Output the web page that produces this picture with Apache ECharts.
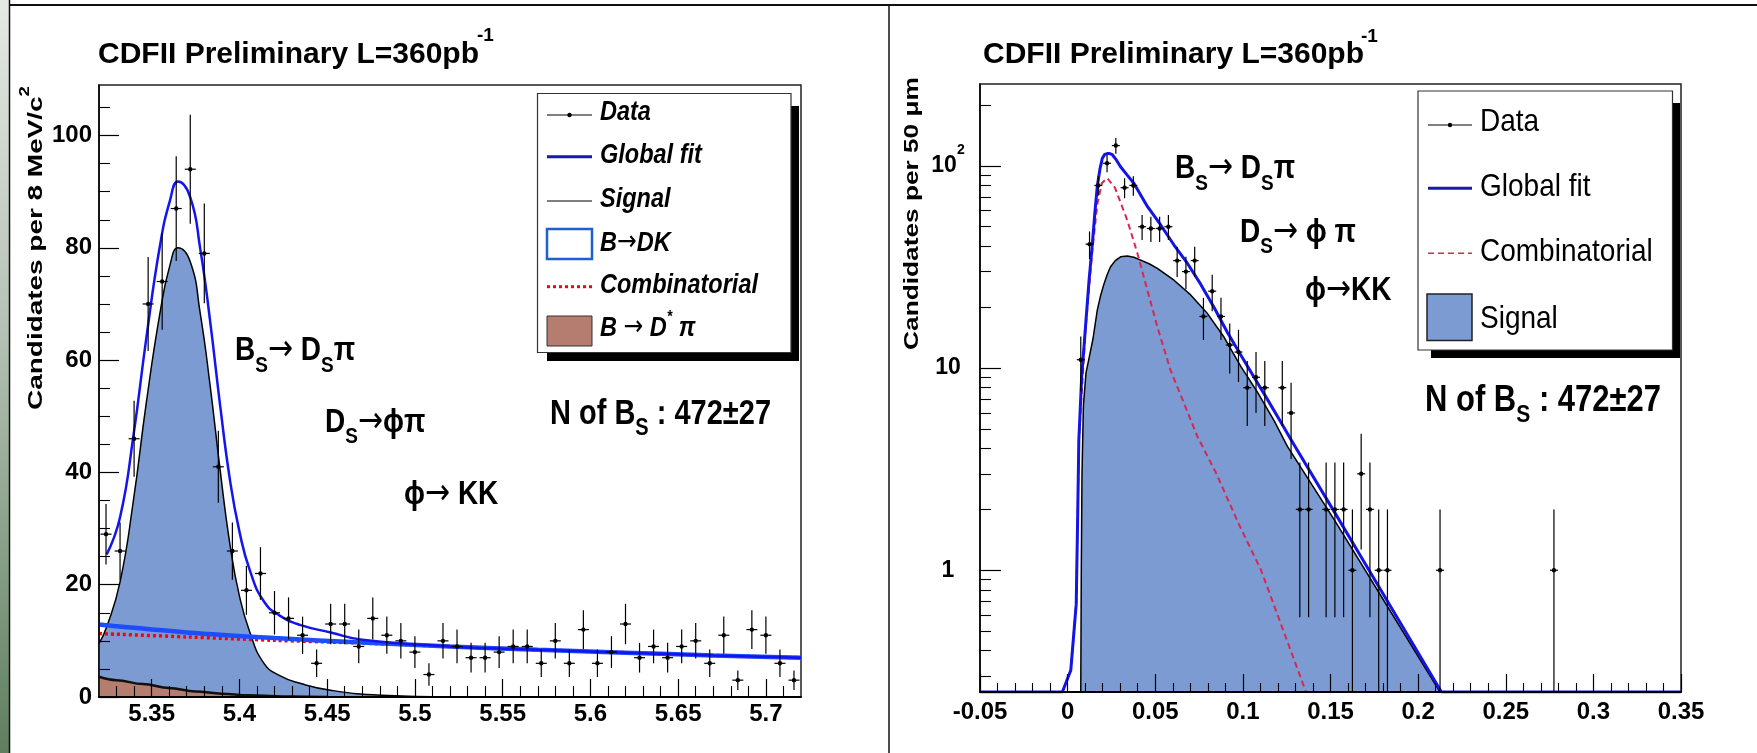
<!DOCTYPE html>
<html><head><meta charset="utf-8">
<script src="https://cdn.jsdelivr.net/npm/echarts@6.0.0/dist/echarts.min.js"></script>
<style>html,body{margin:0;padding:0;background:#fff}#c{width:1757px;height:753px}</style>
</head><body><div id="c"></div>
<script>
// ---------------- LEFT PANEL : B_s mass, 8 MeV/c^2 bins ----------------
const massBinCenters = [5.324,5.332,5.340,5.348,5.356,5.364,5.372,5.380,5.388,5.396,5.404,5.412,5.420,5.428,5.436,5.444,5.452,5.460,5.468,5.476,5.484,5.492,5.500,5.508,5.516,5.524,5.532,5.540,5.548,5.556,5.564,5.572,5.580,5.588,5.596,5.604,5.612,5.620,5.628,5.636,5.644,5.652,5.660,5.668,5.676,5.684,5.692,5.700,5.708,5.716];
const massCounts = [29,26,46,70,74,87,94,79,41,26,19,22,15,14,11,6,13,13,9,14,11,10,8,4,10,9,7,7,8,9,9,6,10,6,12,6,8,13,7,9,7,9,10,6,11,3,12,11,6,3];
// curves
const fitLX = [5.3244,5.332,5.3396,5.347,5.3548,5.3605,5.365,5.372,5.3776,5.3833,5.389,5.3947,5.4,5.406,5.414,5.423,5.435,5.452,5.47,5.52,5.57,5.62,5.67,5.72];
const fitLY = [25.4,32,46.5,64,80.5,88.5,91.8,89,80,67,52,38.5,29.5,22.5,17,14.5,12.8,11.5,10.2,9.0,8.4,7.9,7.4,7.0];
const sigLX = [5.32,5.3244,5.332,5.3396,5.347,5.3548,5.3605,5.365,5.372,5.3776,5.3833,5.389,5.3947,5.4,5.406,5.414,5.423,5.435,5.452,5.481,5.52];
const sigLY = [9.5,12.5,20.5,35,52.5,68.5,77,80,77.5,68.5,55.5,40.5,27,18,11.5,6.0,3.8,2.4,1.2,0.3,0];
const dkLX = [5.32,5.37,5.42,5.47,5.52,5.57,5.62,5.67,5.72];
const dkLY = [12.9,11.5,10.5,9.7,9.0,8.4,7.9,7.4,7.0];
const combLX = [5.32,5.37,5.42,5.47,5.52,5.57,5.62,5.67,5.72];
const combLY = [11.3,10.7,10.1,9.6,9.0,8.4,7.9,7.4,7.0];
const dstarLX = [5.32,5.33,5.345,5.36,5.375,5.39,5.405,5.43,5.45];
const dstarLY = [3.6,3.0,2.3,1.6,1.0,0.6,0.3,0.1,0];
const massMajorTicks = [5.35,5.4,5.45,5.5,5.55,5.6,5.65,5.7];
const massMinorTicks = [5.33,5.34,5.36,5.37,5.38,5.39,5.41,5.42,5.43,5.44,5.46,5.47,5.48,5.49,5.51,5.52,5.53,5.54,5.56,5.57,5.58,5.59,5.61,5.62,5.63,5.64,5.66,5.67,5.68,5.69,5.71];
const countMajorTicks = [0,20,40,60,80,100];
const countMinorTicks = [5,10,15,25,30,35,45,50,55,65,70,75,85,90,95,105];

// ---------------- RIGHT PANEL : proper decay length, 50 um bins (log y) ----------------
const ctBinCenters = [0.0075,0.0125,0.0175,0.0225,0.0275,0.0325,0.0375,0.0425,0.0475,0.0525,0.0575,0.0625,0.0675,0.0725,0.0775,0.0825,0.0875,0.0925,0.0975,0.1025,0.1075,0.1125,0.1225,0.1275,0.1325,0.1375,0.1475,0.1525,0.1575,0.1625,0.1675,0.1725,0.1775,0.1825,0.2125,0.2775];
const ctCounts = [11,41,80,103,126,78,80,50,49,49,50,34,30,34,18,24,18,13,12,8,9,8,8,6,2,2,2,2,2,1,3,2,1,1,1,1];
const fitRX = [-0.05,-0.003,0.0018,0.0049,0.0058,0.0064,0.008,0.0102,0.0122,0.0141,0.0155,0.0169,0.0184,0.0198,0.0212,0.0226,0.024,0.0255,0.0278,0.0302,0.034,0.0378,0.0455,0.0531,0.0607,0.0683,0.0759,0.0835,0.0912,0.0988,0.1064,0.114,0.1217,0.128,0.1521,0.1826,0.2133,0.35];
const fitRY = [0.25,0.25,0.32,0.68,2.0,4.4,9,16,27,41,58,79,96,109,114,115,115,113.5,107,99,90,82,63,51,40.6,33,26,20,15,11.6,9,7.0,5.4,4.35,1.95,0.70,0.25,0.25];
const sigRX = [0.0075,0.0078,0.0082,0.009,0.0105,0.0125,0.0145,0.0169,0.0188,0.0207,0.0226,0.0245,0.0272,0.0302,0.034,0.0378,0.0417,0.0465,0.0512,0.0607,0.0702,0.0798,0.0893,0.0988,0.1083,0.1178,0.1254,0.1521,0.1826,0.2125];
const sigRY = [0.25,1.0,3.0,6.5,9.5,11.5,14,19.3,22.8,26,29,31.7,34,35.5,35.8,35.3,34.2,32.8,31.1,27.2,23,18.6,14.2,10.2,7.6,5.5,4.1,1.78,0.66,0.25];
const combRX = [-0.003,0.0018,0.0049,0.0064,0.0102,0.0141,0.017,0.0195,0.0225,0.027,0.034,0.0398,0.0455,0.0512,0.0588,0.0664,0.074,0.0849,0.0977,0.1104,0.1232,0.136];
const combRY = [0.25,0.32,0.68,4.3,15.5,38,65,82,87,78,54,37,24.3,16,9.7,6.7,4.6,3.0,1.69,1.0,0.5,0.25];
const ctMajorTicks = [-0.05,0,0.05,0.1,0.15,0.2,0.25,0.3,0.35];
const ctMinorTicks = [-0.04,-0.03,-0.02,-0.01,0.01,0.02,0.03,0.04,0.06,0.07,0.08,0.09,0.11,0.12,0.13,0.14,0.16,0.17,0.18,0.19,0.21,0.22,0.23,0.24,0.26,0.27,0.28,0.29,0.31,0.32,0.33,0.34];
const logMajorTicks = [1,10,100];
const logMinorTicks = [0.3,0.4,0.5,0.6,0.7,0.8,0.9,2,3,4,5,6,7,8,9,20,30,40,50,60,70,80,90,200];

// ---------------- helpers ----------------
const FF = "'Liberation Sans', Arial, Helvetica, sans-serif";
const SIG_FILL = '#7b9bd2';
function pairs(xs, ys) { return xs.map((x, i) => [x, ys[i]]); }
function errRender(halfW, yFloor) {
  return function (params, api) {
    const x = api.value(0), y = api.value(1);
    const e = Math.sqrt(y);
    const lo = Math.max(y - e, yFloor), hi = y + e;
    const p = api.coord([x, y]), pl = api.coord([x, lo]), ph = api.coord([x, hi]);
    return { type: 'group', children: [
      { type: 'line', shape: { x1: p[0], y1: pl[1], x2: p[0], y2: ph[1] }, style: { stroke: '#000', lineWidth: 1.2 } },
      { type: 'line', shape: { x1: p[0] - halfW, y1: p[1], x2: p[0] + halfW, y2: p[1] }, style: { stroke: '#000', lineWidth: 1.2 } },
      { type: 'circle', shape: { cx: p[0], cy: p[1], r: 2.2 }, style: { fill: '#000' } }
    ]};
  };
}
const axisFont = { fontFamily: FF, fontWeight: 'bold', fontSize: 24, color: '#000' };
function majorX(grid, min, max, ticks, margin) {
  return { gridIndex: grid, type: 'value', min, max, position: 'bottom', z: 10,
    axisLine: { show: true, onZero: false, lineStyle: { color: '#000', width: 2 } },
    axisTick: { show: true, inside: true, length: 18, customValues: ticks, lineStyle: { color: '#000', width: 1.2 } },
    axisLabel: Object.assign({ show: true, margin, customValues: ticks, formatter: v => String(v) }, axisFont),
    splitLine: { show: false } };
}
function minorX(grid, min, max, ticks, len) {
  return { gridIndex: grid, type: 'value', min, max, position: 'bottom', z: 10,
    axisLine: { show: false, onZero: false },
    axisTick: { show: true, inside: true, length: len, customValues: ticks, lineStyle: { color: '#000', width: 1.1 } },
    axisLabel: { show: false }, splitLine: { show: false } };
}
function T(x, y, text, o) {
  return { type: 'text', x, y, z: 100, scaleX: o.sx || 1, scaleY: o.sy || 1, rotation: o.rot || 0,
    style: { text, fontFamily: FF, fontSize: o.fs, fontWeight: o.fw || 'bold', fontStyle: o.it ? 'italic' : 'normal',
      fill: '#000', align: o.align || 'left', textAlign: o.align || 'left', verticalAlign: 'middle', textVerticalAlign: 'middle', rich: o.rich } };
}
function annRich(F) {
  return { m: { fontSize: F, fontWeight: 'bold', fontFamily: FF, lineHeight: 40 },
           a: { fontSize: F + 2, fontWeight: 'normal', fontFamily: "'DejaVu Sans', " + FF, lineHeight: 40 },
           s: { fontSize: Math.round(F * 0.68), fontWeight: 'bold', fontFamily: FF, height: 16, verticalAlign: 'bottom' } };
}
function line(x1, y1, x2, y2, stroke, w, dash) {
  return { type: 'line', z: 101, shape: { x1, y1, x2, y2 }, style: { stroke, lineWidth: w, lineDash: dash || null } };
}
function rect(x, y, w, h, fill, stroke, lw, z) {
  return { type: 'rect', z: z || 100, shape: { x, y, width: w, height: h }, style: { fill, stroke: stroke || null, lineWidth: lw || 0 } };
}
const legRich = {
  i: { fontSize: 23.5, fontWeight: 'bold', fontStyle: 'italic', fontFamily: FF, lineHeight: 28 },
  a: { fontSize: 23.5, fontWeight: 'normal', fontStyle: 'normal', fontFamily: "'DejaVu Sans', " + FF, lineHeight: 28 },
  p: { fontSize: 14, fontWeight: 'bold', fontStyle: 'italic', fontFamily: FF, height: 10, verticalAlign: 'top' }
};

const graphics = [
  // page decoration
  rect(0, 0, 9, 753, new echarts.graphic.LinearGradient(0, 0, 0, 1, [
    { offset: 0, color: '#e6e8e6' }, { offset: 0.45, color: '#b3c0b3' }, { offset: 1, color: '#5f7f5f' }]), null, 0, 1),
  line(9.5, 0, 9.5, 753, '#111', 1.5),
  line(9, 5, 1757, 5, '#111', 2),
  line(889, 5, 889, 753, '#111', 1.5),
  // titles
  T(98, 54.5, 'CDFII Preliminary L=360pb', { fs: 30 }),
  T(477, 36, '-1', { fs: 19 }),
  T(983, 54.5, 'CDFII Preliminary L=360pb', { fs: 30 }),
  T(1361, 37, '-1', { fs: 19 }),
  // y axis titles
  T(36, 248, '{m|Candidates per 8 MeV/c}{p|2}', { fs: 21, rot: Math.PI / 2, sx: 1.33, align: 'center',
    rich: { m: { fontSize: 21, fontWeight: 'bold', fontFamily: FF, lineHeight: 30 },
            p: { fontSize: 14, fontWeight: 'bold', fontFamily: FF, height: 8, verticalAlign: 'top' } } }),
  T(912.5, 213.5, 'Candidates per 50 \u03bcm', { fs: 21, rot: Math.PI / 2, sx: 1.25, align: 'center' }),
  // left annotations
  T(235, 351, '{m|B}{s|S}{a|\u2192}{m| D}{s|S}{m|\u03c0}', { fs: 28, sy: 1.2, rich: annRich(28) }),
  T(325, 422.5, '{m|D}{s|S}{a|\u2192}{m|\u03d5\u03c0}', { fs: 28, sy: 1.2, rich: annRich(28) }),
  T(404, 495, '{m|\u03d5}{a|\u2192}{m| KK}', { fs: 28, sy: 1.2, rich: annRich(28) }),
  T(550, 414, '{m|N of B}{s|S}{m| : 472\u00b127}', { fs: 29, sy: 1.2, rich: annRich(29) }),
  // right annotations
  T(1175, 169, '{m|B}{s|S}{a|\u2192}{m| D}{s|S}{m|\u03c0}', { fs: 28, sy: 1.2, rich: annRich(28) }),
  T(1240, 232.5, '{m|D}{s|S}{a|\u2192}{m| \u03d5 \u03c0}', { fs: 28, sy: 1.2, rich: annRich(28) }),
  T(1305, 291, '{m|\u03d5}{a|\u2192}{m|KK}', { fs: 28, sy: 1.2, rich: annRich(28) }),
  T(1425, 400.5, '{m|N of B}{s|S}{m| : 472\u00b127}', { fs: 31, sy: 1.18, rich: annRich(31) }),
  // left legend
  rect(547, 106, 252, 255, '#000', null, 0, 99),
  rect(537.5, 93.5, 253.5, 259, '#fff', '#333', 1.2, 100),
  line(547, 115, 592, 115, '#000', 1), { type: 'circle', z: 102, shape: { cx: 569.5, cy: 115, r: 2.2 }, style: { fill: '#000' } },
  line(547, 156.7, 592, 156.7, '#1a1aa8', 3),
  line(547, 201, 592, 201, '#000', 1),
  rect(547, 229, 45, 30, '#fff', '#1f5fd0', 2.5, 101),
  line(547, 286.7, 592, 286.7, '#ff0000', 3, [3, 3]),
  rect(547, 316, 45, 30, '#b57d70', '#333', 1, 101),
  T(600, 112, 'Data', { fs: 23.5, it: true, sy: 1.18 }),
  T(600, 155.5, 'Global fit', { fs: 23.5, it: true, sy: 1.18 }),
  T(600, 199, 'Signal', { fs: 23.5, it: true, sy: 1.18 }),
  T(600, 243, '{i|B}{a|\u2192}{i|DK}', { fs: 23.5, it: true, sy: 1.18, rich: legRich }),
  T(600, 285, 'Combinatorial', { fs: 23.5, it: true, sy: 1.18 }),
  T(600, 328, '{i|B }{a|\u2192}{i| D}{p|*}{i| \u03c0}', { fs: 23.5, it: true, sy: 1.18, rich: legRich }),
  // right legend
  rect(1431, 103, 249, 255, '#000', null, 0, 99),
  rect(1418, 91, 254.5, 259, '#fff', '#333', 1.2, 100),
  line(1428, 125, 1472, 125, '#000', 1), { type: 'circle', z: 102, shape: { cx: 1450, cy: 125, r: 2.2 }, style: { fill: '#000' } },
  line(1428, 188.3, 1472, 188.3, '#1a1aa8', 3),
  line(1428, 253.3, 1472, 253.3, '#d8284f', 1.6, [6, 4]),
  rect(1427, 294, 45, 46.5, SIG_FILL, '#222', 1.5, 101),
  T(1480, 122.5, 'Data', { fs: 28, fw: 'normal', sy: 1.12 }),
  T(1480, 187.3, 'Global fit', { fs: 28, fw: 'normal', sy: 1.12 }),
  T(1480, 252.5, 'Combinatorial', { fs: 28, fw: 'normal', sy: 1.12 }),
  T(1480, 319, 'Signal', { fs: 28, fw: 'normal', sy: 1.12 })
];

const chart = echarts.init(document.getElementById('c'), null, { renderer: 'canvas' });
chart.setOption({
  animation: false,
  backgroundColor: '#ffffff',
  grid: [
    { left: 99, top: 85, width: 702, height: 612, show: true, borderColor: '#222', borderWidth: 1.5, backgroundColor: 'transparent' },
    { left: 980, top: 84, width: 701, height: 608, show: true, borderColor: '#222', borderWidth: 1.5, backgroundColor: 'transparent' }
  ],
  xAxis: [
    majorX(0, 5.32, 5.72, massMajorTicks, 5),
    minorX(0, 5.32, 5.72, massMinorTicks, 11),
    majorX(1, -0.05, 0.35, ctMajorTicks, 8),
    minorX(1, -0.05, 0.35, ctMinorTicks, 9)
  ],
  yAxis: [
    { gridIndex: 0, type: 'value', min: 0, max: 109, position: 'left', z: 10,
      axisLine: { show: true, onZero: false, lineStyle: { color: '#000', width: 1.5 } },
      axisTick: { show: true, inside: true, length: 20, customValues: countMajorTicks, lineStyle: { color: '#000', width: 1.2 } },
      axisLabel: Object.assign({ show: true, margin: 7, customValues: countMajorTicks, formatter: v => String(v) }, axisFont),
      splitLine: { show: false } },
    { gridIndex: 0, type: 'value', min: 0, max: 109, position: 'left', z: 10,
      axisLine: { show: false, onZero: false },
      axisTick: { show: true, inside: true, length: 11, customValues: countMinorTicks, lineStyle: { color: '#000', width: 1.1 } },
      axisLabel: { show: false }, splitLine: { show: false } },
    { gridIndex: 1, type: 'log', logBase: 10, min: 0.25, max: 254, position: 'left', z: 10,
      axisLine: { show: true, onZero: false, lineStyle: { color: '#000', width: 1.5 } },
      axisTick: { show: true, inside: true, length: 21, customValues: logMajorTicks, lineStyle: { color: '#000', width: 1.2 } },
      axisLabel: Object.assign({ show: true, margin: 32, align: 'center', customValues: logMajorTicks,
        formatter: v => Math.round(v) === 100 ? '{b|10}{sup|2}' : '{b|' + Math.round(v) + '}',
        rich: { b: { fontFamily: FF, fontWeight: 'bold', fontSize: 23, lineHeight: 40 },
                sup: { fontFamily: FF, fontWeight: 'bold', fontSize: 14, height: 8, verticalAlign: 'top' } } }, axisFont, { fontSize: 23 }),
      splitLine: { show: false } },
    { gridIndex: 1, type: 'log', logBase: 10, min: 0.25, max: 254, position: 'left', z: 10,
      axisLine: { show: false, onZero: false },
      axisTick: { show: true, inside: true, length: 11, customValues: logMinorTicks, lineStyle: { color: '#000', width: 1.1 } },
      axisLabel: { show: false }, splitLine: { show: false } }
  ],
  series: [
    // ---- left
    { type: 'line', name: 'Signal', xAxisIndex: 0, yAxisIndex: 0, data: pairs(sigLX, sigLY), smooth: 0.5,
      symbol: 'none', lineStyle: { color: '#000', width: 1.5 }, areaStyle: { color: SIG_FILL, opacity: 1 }, z: 2 },
    { type: 'line', name: 'B \u2192 D* \u03c0', xAxisIndex: 0, yAxisIndex: 0, data: pairs(dstarLX, dstarLY), smooth: 0.4, smoothMonotone: 'x',
      symbol: 'none', lineStyle: { color: '#111', width: 2.5 }, areaStyle: { color: '#b57d70', opacity: 1 }, z: 3 },
    { type: 'line', name: 'Combinatorial', xAxisIndex: 0, yAxisIndex: 0, data: pairs(combLX, combLY), smooth: 0.3,
      symbol: 'none', lineStyle: { color: '#ff0000', width: 3.5, type: [3, 3] }, z: 4 },
    { type: 'line', name: 'B\u2192DK', xAxisIndex: 0, yAxisIndex: 0, data: pairs(dkLX, dkLY), smooth: 0.3,
      symbol: 'none', lineStyle: { color: '#1e4cff', width: 4.5 }, z: 5 },
    { type: 'line', name: 'Global fit', xAxisIndex: 0, yAxisIndex: 0, data: pairs(fitLX, fitLY), smooth: 0.5,
      symbol: 'none', lineStyle: { color: '#1414f0', width: 2.5 }, z: 6 },
    { type: 'custom', name: 'Data', xAxisIndex: 0, yAxisIndex: 0, data: pairs(massBinCenters, massCounts),
      encode: { x: 0, y: 1 }, renderItem: errRender(5.5, 0), z: 7 },
    // ---- right
    { type: 'line', name: 'Signal', xAxisIndex: 2, yAxisIndex: 2, data: pairs(sigRX, sigRY), smooth: false,
      symbol: 'none', lineStyle: { color: '#000', width: 1.5, join: 'round' }, areaStyle: { color: SIG_FILL, opacity: 1, origin: 'start' }, z: 2 },
    { type: 'line', name: 'Combinatorial', xAxisIndex: 2, yAxisIndex: 2, data: pairs(combRX, combRY), smooth: false,
      symbol: 'none', lineStyle: { color: '#d8284f', width: 2, type: [6, 4] }, z: 4 },
    { type: 'line', name: 'Global fit', xAxisIndex: 2, yAxisIndex: 2, data: pairs(fitRX, fitRY), smooth: false,
      symbol: 'none', lineStyle: { color: '#1414e6', width: 3, join: 'round' }, z: 6 },
    { type: 'custom', name: 'Data', xAxisIndex: 2, yAxisIndex: 2, data: pairs(ctBinCenters, ctCounts),
      encode: { x: 0, y: 1 }, renderItem: errRender(4, 0.25), z: 7 }
  ],
  graphic: { elements: graphics }
});
</script>
</body></html>
